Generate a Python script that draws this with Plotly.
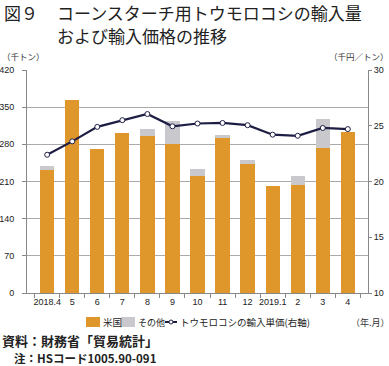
import plotly.graph_objects as go

months = ["2018.4", "5", "6", "7", "8", "9", "10", "11", "12", "2019.1", "2", "3", "4"]
us = [232, 364, 272, 302, 296, 280, 220, 292, 243, 202, 203, 274, 304]
other = [8, 0, 0, 0, 12, 44, 13, 5, 8, 0, 18, 54, 0]
price = [22.4, 23.6, 24.9, 25.5, 26.05, 24.95, 25.2, 25.25, 25.05, 24.2, 24.1, 24.8, 24.7]
legend_names = ["米国", "その他", "トウモロコシの輸入単価(右軸)"]

FONT = "Noto Sans CJK JP"
ORANGE = "#DF962B"
GRAY = "#C9C9CD"
NAVY = "#1E1E45"

# plot area in pixels
L, R, T, B = 27, 368, 70, 293
W, H = 389, 366


def px(x):
    return (x - L) / (R - L)


def py(y):
    return (B - y) / (B - T)


fig = go.Figure()
fig.add_trace(go.Bar(x=months, y=us, name=legend_names[0], marker=dict(color=ORANGE, line_width=0)))
fig.add_trace(go.Bar(x=months, y=other, name=legend_names[1], marker=dict(color=GRAY, line_width=0)))
fig.add_trace(go.Scatter(x=months, y=price, name=legend_names[2], yaxis="y2",
                         mode="lines+markers",
                         line=dict(color=NAVY, width=2.2),
                         marker=dict(symbol="circle", size=5, color="white",
                                     line=dict(color=NAVY, width=1))))

tickfont = dict(size=9, family="Liberation Sans", color="#222")
fig.update_layout(
    width=W, height=H,
    margin=dict(l=L, r=W - R, t=T, b=H - B, autoexpand=False),
    paper_bgcolor="white", plot_bgcolor="white",
    barmode="stack", bargap=0.43,
    font=dict(family=FONT, color="#222"),
    showlegend=False,
    xaxis=dict(type="category", showline=True, linecolor="#888", linewidth=1,
               ticks="outside", tickson="boundaries", ticklen=4, tickcolor="#888",
               tickangle=0, automargin=False,
               tickfont=tickfont, showgrid=False),
    yaxis=dict(range=[0, 420], tickvals=[0, 70, 140, 210, 280, 350, 420],
               showline=True, linecolor="#888", linewidth=1, ticks="outside",
               ticklen=4, tickcolor="#888", showgrid=True, gridcolor="#ABABAB",
               gridwidth=1, zeroline=False, automargin=False,
               ticklabelstandoff=6, tickfont=tickfont),
    yaxis2=dict(range=[10, 30], tickvals=[10, 15, 20, 25, 30], overlaying="y", side="right",
                showline=True, linecolor="#888", linewidth=1, ticks="outside",
                ticklen=3, tickcolor="#888", showgrid=False, zeroline=False,
                automargin=False, tickfont=tickfont),
)

# manual legend
LY = 322
shapes = [
    dict(type="rect", xref="paper", yref="paper", x0=px(86), x1=px(100), y0=py(LY + 5), y1=py(LY - 5),
         fillcolor=ORANGE, line_width=0),
    dict(type="rect", xref="paper", yref="paper", x0=px(121), x1=px(135), y0=py(LY + 5), y1=py(LY - 5),
         fillcolor=GRAY, line_width=0),
    dict(type="line", xref="paper", yref="paper", x0=px(165), x1=px(177), y0=py(LY), y1=py(LY),
         line=dict(color=NAVY, width=2)),
    dict(type="circle", xref="paper", yref="paper", x0=px(169), x1=px(173), y0=py(LY + 2), y1=py(LY - 2),
         fillcolor="white", line=dict(color=NAVY, width=1)),
]
fig.update_layout(shapes=shapes)

ann = [
    dict(text="図９", x=2, y=13, font=dict(size=17, color="#222")),
    dict(text="コーンスターチ用トウモロコシの輸入量", x=55, y=13, font=dict(size=17, color="#222")),
    dict(text="および輸入価格の推移", x=55, y=35, font=dict(size=17, color="#222")),
    dict(text="（千トン）", x=0, y=56, font=dict(size=8.5, color="#333")),
    dict(text="（千円／トン）", x=327, y=56, font=dict(size=8.5, color="#333")),
    dict(text=legend_names[0], x=101, y=LY, font=dict(size=9.5, color="#222")),
    dict(text=legend_names[1], x=136, y=LY, font=dict(size=9, color="#222")),
    dict(text=legend_names[2], x=178, y=LY, font=dict(size=9.5, color="#222")),
    dict(text="（年.月）", x=349, y=LY, font=dict(size=9, color="#333")),
    dict(text="資料：財務省「貿易統計」", x=0, y=340, font=dict(size=13, color="#222", weight="bold")),
    dict(text="注：HSコード1005.90-091", x=12, y=358, font=dict(size=11.5, color="#222", weight="bold")),
]
annotations = []
for a in ann:
    annotations.append(dict(text=a["text"], xref="paper", yref="paper",
                            x=px(a["x"]), y=py(a["y"]),
                            xanchor="left", yanchor="middle", showarrow=False,
                            font=dict(family=FONT, **a["font"])))
fig.update_layout(annotations=annotations)

fig.write_html("out.html", config={"displayModeBar": False},
               post_script="document.body.style.margin='0';")
